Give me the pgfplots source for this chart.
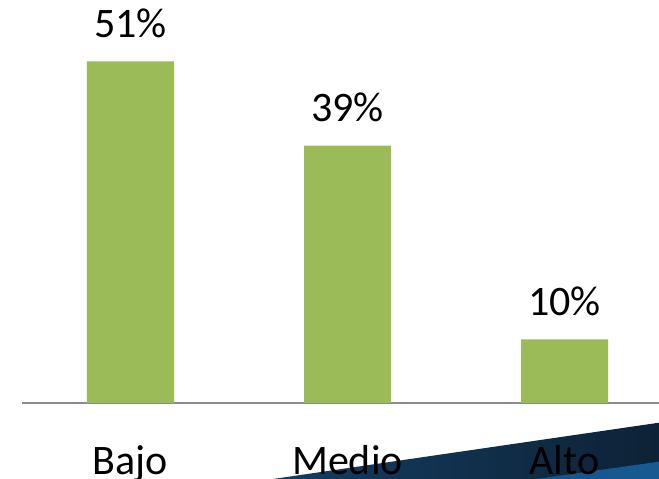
\documentclass[border=0pt]{standalone}
\usepackage{pgfplots}
\pgfplotsset{compat=1.18}
\usepackage{fontspec}
\setmainfont{Carlito}
\definecolor{bargreen}{HTML}{9BBB59}
\definecolor{axisgray}{HTML}{8C8C8C}
\definecolor{navyL}{HTML}{153D62}
\definecolor{navyR}{HTML}{0D2236}
\definecolor{blueL}{HTML}{14548A}
\definecolor{blueR}{HTML}{175A93}
\begin{document}
\begin{tikzpicture}
% slide decoration (bottom right)
\shade[left color=navyL, right color=navyR] (251pt,-76pt) -- (637pt,-19.7pt) -- (637pt,-76pt) -- cycle;
\shade[left color=blueL, right color=blueR] (514pt,-76pt) -- (637pt,-58.7pt) -- (637pt,-76pt) -- cycle;
\begin{axis}[
  at={(0,0)}, anchor=south west,
  scale only axis,
  width=637pt, height=403pt,
  xmin=-0.5, xmax=2.4355,
  ymin=0, ymax=60.75,
  axis y line=none,
  axis x line*=bottom,
  x axis line style={draw=axisgray, line width=1.5pt},
  xtick={0,1,2},
  xticklabels={Bajo,Medio,Alto},
  xtick style={draw=none},
  xticklabel style={anchor=base, yshift=-67pt, inner sep=0pt, font=\fontsize{42}{50}\selectfont},
  ybar, bar width=87pt,
  clip=false,
  nodes near coords,
  point meta=explicit symbolic,
  every node near coord/.append style={anchor=base, yshift=24pt, inner sep=0pt, font=\fontsize{42}{50}\selectfont, text=black},
]
\addplot[fill=bargreen, draw=none] coordinates {(0,51.5)[51\%] (1,38.8)[39\%] (2,9.6)[10\%]};
\end{axis}
\pgfresetboundingbox
\path[use as bounding box] (-22pt,-76pt) rectangle (637pt,403pt);
\end{tikzpicture}
\end{document}
